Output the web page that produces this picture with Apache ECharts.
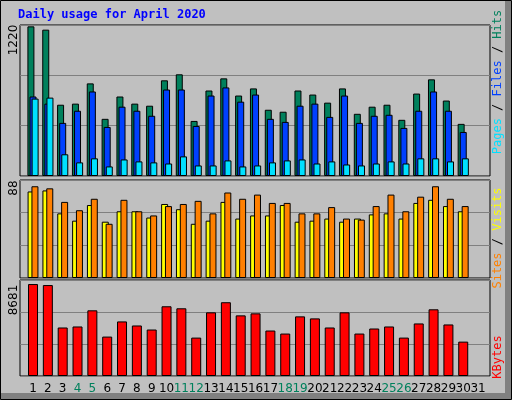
<!DOCTYPE html>
<html>
<head>
<meta charset="utf-8">
<script src="https://cdn.jsdelivr.net/npm/echarts@6/dist/echarts.min.js"></script>
<style>html,body{margin:0;padding:0;background:#c0c0c0}#chart{width:512px;height:400px}</style>
</head>
<body>
<div id="chart"></div>
<script>
// daily values
const days = ['1','2','3','4','5','6','7','8','9','10','11','12','13','14','15','16','17','18','19','20','21','22','23','24','25','26','27','28','29','30','31'];
const weekends = ['4','5','11','12','18','19','25','26'];
const hits  = [1220,1193,581,590,755,466,648,590,573,780,829,449,697,796,656,714,540,524,697,664,598,714,507,565,581,458,672,788,615,425,null];
const files = [648,590,433,532,689,400,565,532,491,705,705,408,656,722,606,664,466,441,573,590,482,656,433,491,499,392,532,689,532,359,null];
const pages = [631,639,177,111,144,78,135,119,111,102,160,86,86,127,78,86,111,127,135,102,119,94,86,102,119,102,144,144,119,144,null];
const sites  = [83,84,62,55,70,54,64,64,58,71,66,52,55,73,57,60,60,70,54,55,57,54,57,61,62,57,72,75,69,64,null];
const visits = [88,86,73,65,76,52,75,64,60,69,71,74,62,82,76,80,72,72,62,62,68,57,56,69,80,64,78,88,76,69,null];
const kbytes = [8681,8586,4579,4675,6201,3721,5152,4770,4388,6582,6392,3625,6010,6964,5724,5915,4293,4007,5629,5438,4579,6010,4007,4484,4675,3625,4961,6296,4866,3244,null];

const maxHits = 1231, maxSites = 94, maxKb = 9063;

const chart = echarts.init(document.getElementById('chart'));

// panel rows: [top, height, max]
const rows = [[25, 151, maxHits], [180, 98, maxSites], [280, 96, maxKb]];
const grids = [], xAxes = [], yAxes = [];
rows.forEach((r, i) => {
  // wide grid: frame + grid lines
  grids.push({left: 20, right: 22, top: r[0], height: r[1], show: true, backgroundColor: '#c0c0c0', borderColor: '#000', borderWidth: 1});
  xAxes.push({type: 'value', gridIndex: grids.length - 1, show: false});
  yAxes.push({type: 'value', gridIndex: grids.length - 1, min: 0, max: r[2], interval: r[2] / 3,
    axisLine: {show: false}, axisTick: {show: false}, axisLabel: {show: false},
    splitLine: {lineStyle: {color: '#808080', width: 1}}});
  // narrow grid: bars
  grids.push({left: 25.6, right: 26.5, top: r[0], height: r[1]});
  xAxes.push({type: 'category', gridIndex: grids.length - 1, data: days,
    show: i === 2, axisLine: {show: false}, axisTick: {show: false},
    axisLabel: {show: i === 2, interval: 0, margin: 7, fontFamily: 'DejaVu Sans', fontSize: 12,
      color: v => weekends.includes(v) ? '#00805c' : '#000'}});
  yAxes.push({type: 'value', gridIndex: grids.length - 1, min: 0, max: r[2], show: false, splitLine: {show: false}});
});

const bar = (name, data, axis, color, width, gap) => ({
  name, type: 'bar', data, xAxisIndex: axis, yAxisIndex: axis, barWidth: width, barGap: gap,
  itemStyle: {color, borderColor: '#000', borderWidth: 1}, animation: false
});

chart.setOption({
  backgroundColor: '#c0c0c0',
  grid: grids,
  xAxis: xAxes,
  yAxis: yAxes,
  series: [
    bar('Hits', hits, 1, '#00805c', 7, '-70%'),
    bar('Files', files, 1, '#0040ff', 7, '-70%'),
    bar('Pages', pages, 1, '#00e0ff', 7, '-70%'),
    bar('Sites', sites, 3, '#ffff00', 7, '-45%'),
    bar('Visits', visits, 3, '#ff8000', 7, '-45%'),
    bar('KBytes', kbytes, 5, '#ff0000', 10, '0%')
  ],
  graphic: [
    {type: 'rect', shape: {x: 0.5, y: 0.5, width: 511, height: 399}, style: {fill: null, stroke: '#000', lineWidth: 1}},
    {type: 'rect', shape: {x: 505, y: 1, width: 6, height: 398}, style: {fill: '#808080'}},
    {type: 'rect', shape: {x: 1, y: 393, width: 510, height: 6}, style: {fill: '#808080'}},
    {type: 'text', x: 18, y: 9, style: {text: 'Daily usage for April 2020', fill: '#0000ff',
      font: 'bold 12px "DejaVu Sans Mono"'}},
    {type: 'text', x: 14, y: 40, rotation: Math.PI / 2, style: {text: String(1220), fill: '#000',
      font: '12px "DejaVu Sans"', align: 'center', verticalAlign: 'middle'}},
    {type: 'text', x: 14, y: 188, rotation: Math.PI / 2, style: {text: String(88), fill: '#000',
      font: '12px "DejaVu Sans"', align: 'center', verticalAlign: 'middle'}},
    {type: 'text', x: 14, y: 300, rotation: Math.PI / 2, style: {text: String(8681), fill: '#000',
      font: '12px "DejaVu Sans"', align: 'center', verticalAlign: 'middle'}},
    {type: 'text', x: 498, y: 82, rotation: Math.PI / 2, style: {
      text: '{p|Pages}{s| / }{f|Files}{s| / }{h|Hits}', align: 'center', verticalAlign: 'middle',
      font: '12px "DejaVu Sans Mono"',
      rich: {p: {fill: '#00e0ff'}, f: {fill: '#0040ff'}, h: {fill: '#00805c'}, s: {fill: '#000'}}}},
    {type: 'text', x: 498, y: 238, rotation: Math.PI / 2, style: {
      text: '{a|Sites}{s| / }{b|Visits}', align: 'center', verticalAlign: 'middle',
      font: '12px "DejaVu Sans Mono"',
      rich: {a: {fill: '#ff8000'}, b: {fill: '#ffff00'}, s: {fill: '#000'}}}},
    {type: 'text', x: 498, y: 357, rotation: Math.PI / 2, style: {
      text: 'KBytes', fill: '#ff0000', align: 'center', verticalAlign: 'middle',
      font: '12px "DejaVu Sans Mono"'}}
  ]
});
</script>
</body>
</html>
